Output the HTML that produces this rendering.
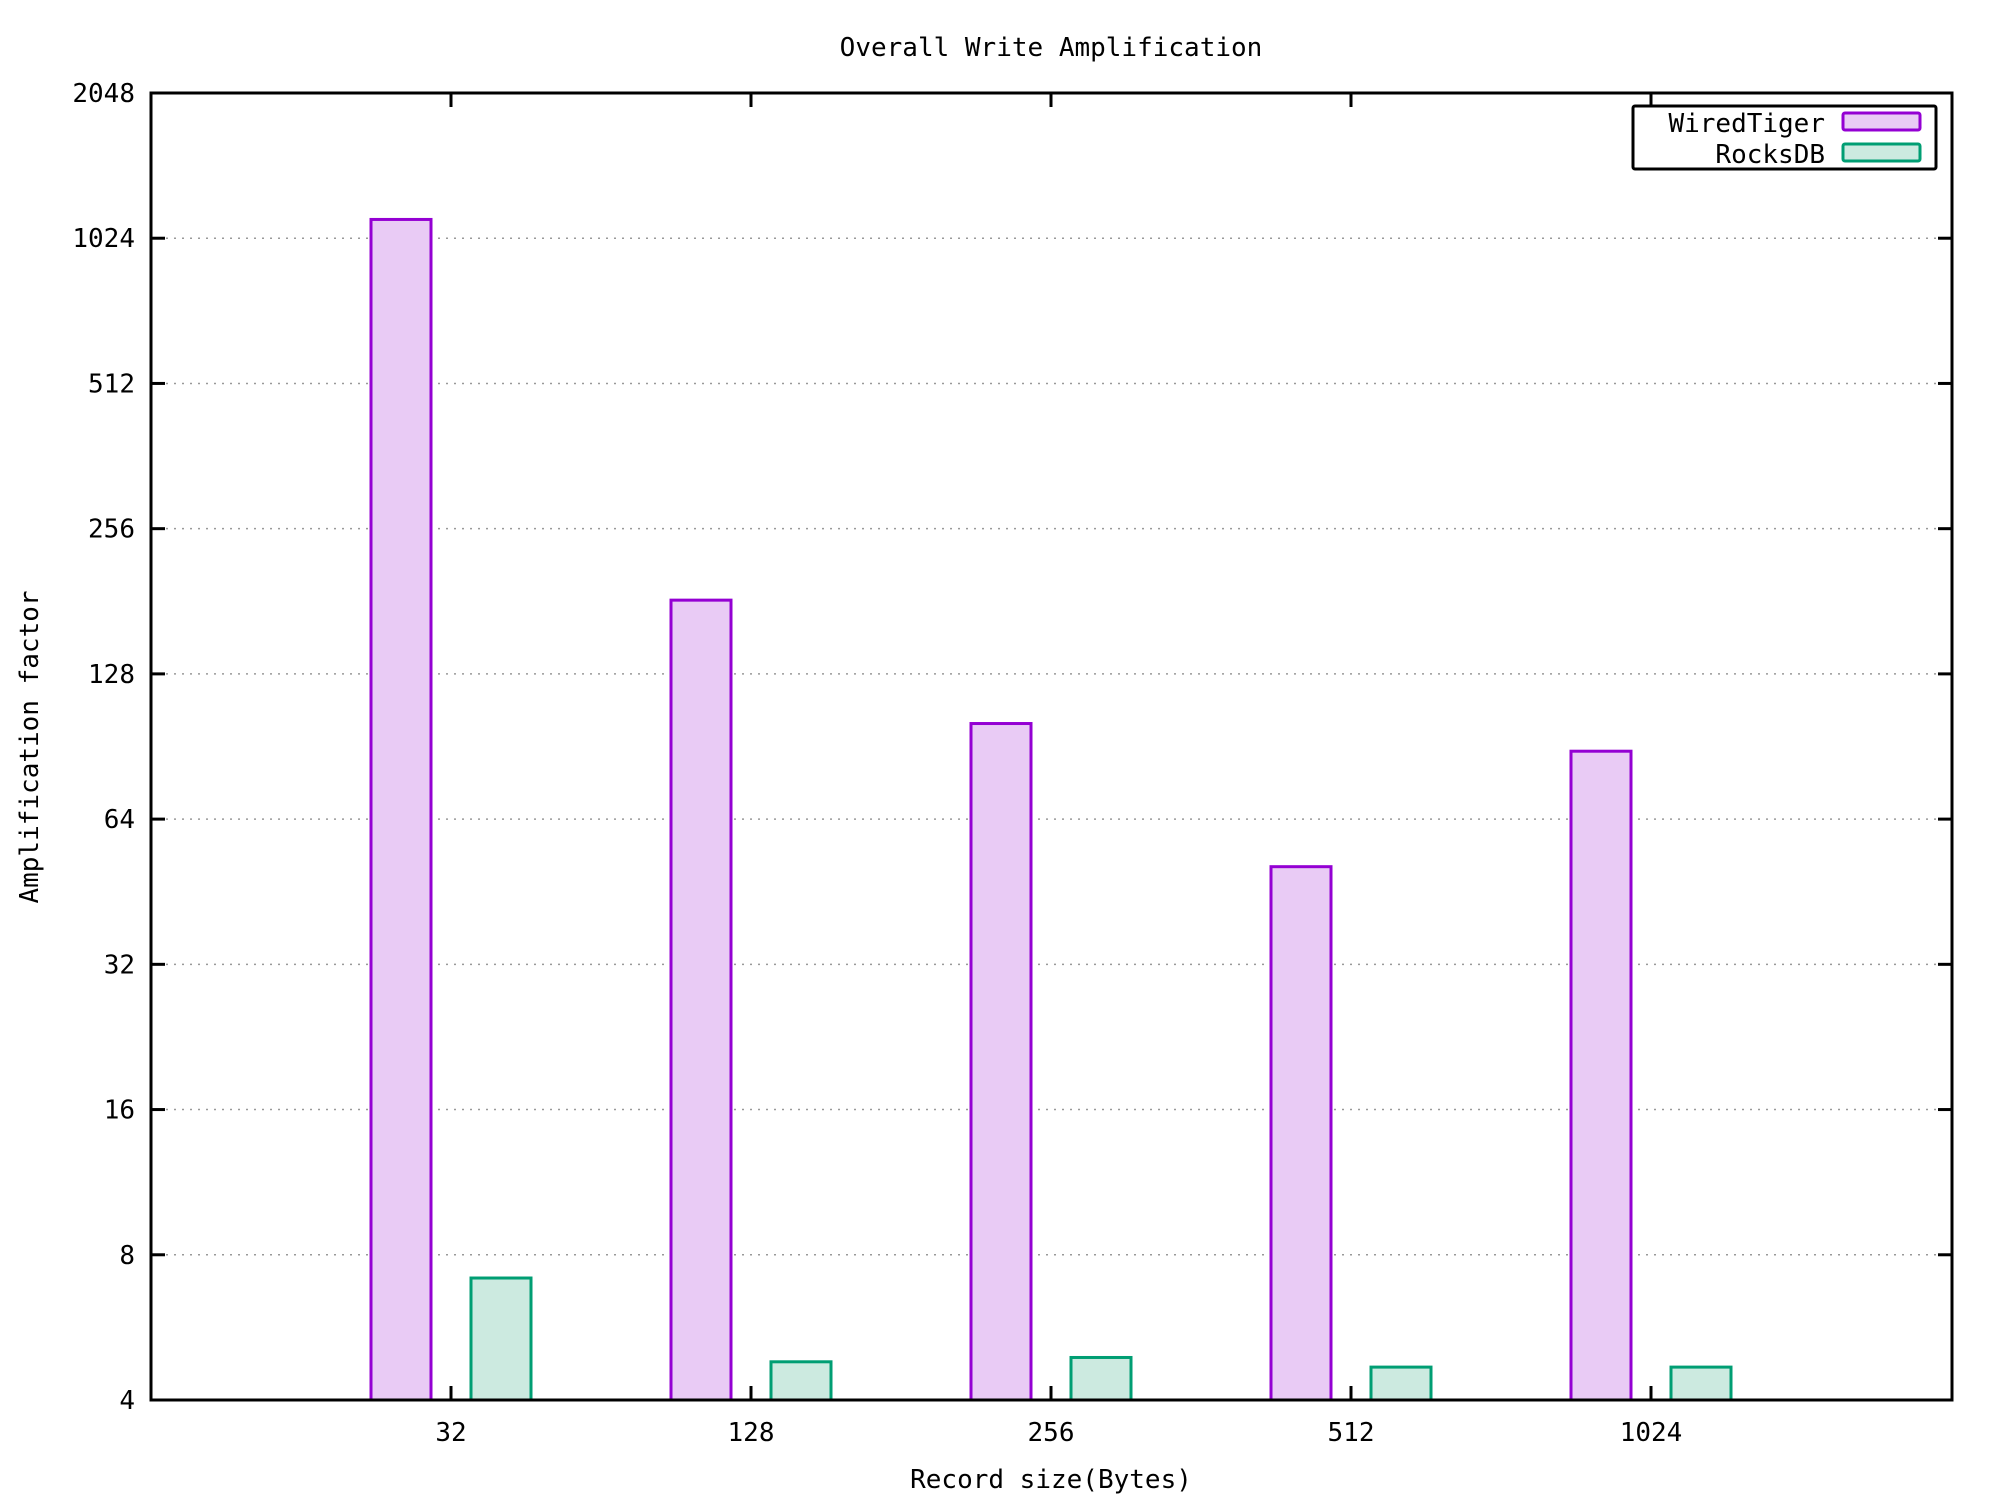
<!DOCTYPE html>
<html><head><meta charset="utf-8"><style>
body{margin:0;background:#fff}
svg{display:block}
text{font-family:"DejaVu Sans Mono","Liberation Mono",monospace;font-size:26px;fill:#000}
</style></head><body>
<svg id="chart" width="2000" height="1500" xmlns="http://www.w3.org/2000/svg">
<g id="grid"></g>
<g id="bars"></g>
<g id="axes"></g>
<text x="1051" y="56" text-anchor="middle">Overall Write Amplification</text>
<text x="1051" y="1488" text-anchor="middle">Record size(Bytes)</text>
<text transform="translate(38,747) rotate(-90)" text-anchor="middle">Amplification factor</text>
<g>
<rect x="1633" y="106" width="303" height="63" fill="#fff" stroke="#000" stroke-width="3" rx="2"/>
<text x="1825" y="132" text-anchor="end">WiredTiger</text>
<rect x="1843" y="113" width="77" height="17" fill="#e9cbf5" stroke="#9400d3" stroke-width="3" rx="2"/>
<text x="1825" y="163" text-anchor="end">RocksDB</text>
<rect x="1843" y="144" width="77" height="17" fill="#cceae0" stroke="#009e73" stroke-width="3" rx="2"/>
</g>
</svg>
<script>
const categories = ["32","128","256","512","1024"];
const wiredTiger = [1120, 182, 101, 51, 88.5];
const rocksDB = [7.16, 4.8, 4.9, 4.68, 4.68];
const yTicks = [4,8,16,32,64,128,256,512,1024,2048];

const NS="http://www.w3.org/2000/svg";
const L=151,R=1952,T=93,B=1400;
const yMin=4,yMax=2048;
function y(v){return B-(Math.log2(v)-Math.log2(yMin))/(Math.log2(yMax)-Math.log2(yMin))*(B-T);}
function x(i){return 451+i*300;}
function mk(tag,attrs,parent){const e=document.createElementNS(NS,tag);for(const k in attrs)e.setAttribute(k,attrs[k]);parent.appendChild(e);return e;}
const grid=document.getElementById('grid'),bars=document.getElementById('bars'),axes=document.getElementById('axes');
yTicks.forEach(t=>{
  const yy=y(t);
  if(t!==yMin&&t!==yMax){
    const g=mk('line',{x1:L+15,x2:R-15,y1:yy,y2:yy,stroke:'#999','stroke-width':1.5,'stroke-dasharray':'2,6'},grid);
    
    
  }
  const a=mk('line',{x1:L,x2:L+14,y1:yy,y2:yy,stroke:'#000','stroke-width':3},axes);
  
  
  const b=mk('line',{x1:R-14,x2:R,y1:yy,y2:yy,stroke:'#000','stroke-width':3},axes);
  
  
  const tx=mk('text',{x:135,y:yy+9,'text-anchor':'end'},axes);
  tx.textContent=t;
  
  
});
categories.forEach((c,i)=>{
  const xx=x(i);
  const wt=mk('rect',{x:xx-80,y:y(wiredTiger[i]),width:60,height:B-y(wiredTiger[i]),fill:'#e9cbf5',stroke:'#9400d3','stroke-width':3},bars);
  
  
  const rd=mk('rect',{x:xx+20,y:y(rocksDB[i]),width:60,height:B-y(rocksDB[i]),fill:'#cceae0',stroke:'#009e73','stroke-width':3},bars);
  
  
  const t1=mk('line',{x1:xx,x2:xx,y1:B,y2:B-14,stroke:'#000','stroke-width':3},axes);
  
  
  const t2=mk('line',{x1:xx,x2:xx,y1:T,y2:T+14,stroke:'#000','stroke-width':3},axes);
  
  
  const tl=mk('text',{x:xx,y:1441,'text-anchor':'middle'},axes);
  tl.textContent=c;
  
  
});
const frame=mk('rect',{x:L,y:T,width:R-L,height:B-T,fill:'none',stroke:'#000','stroke-width':3},axes);


</script>
</body></html>
